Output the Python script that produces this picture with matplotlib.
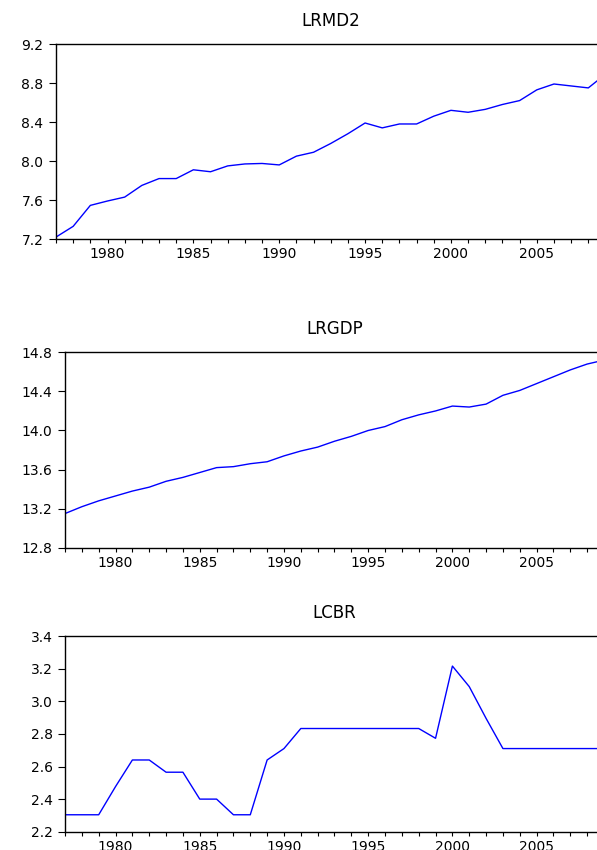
import matplotlib
matplotlib.use("Agg")
import matplotlib.pyplot as plt
from matplotlib.ticker import MultipleLocator, FormatStrFormatter

# annual data, 1977-2009
years = list(range(1977, 2010))

lrmd2 = [7.22, 7.33, 7.545, 7.59, 7.63, 7.75, 7.82, 7.82, 7.91, 7.89,
         7.95, 7.97, 7.975, 7.96, 8.05, 8.09, 8.18, 8.28, 8.39, 8.34,
         8.38, 8.38, 8.46, 8.52, 8.50, 8.53, 8.58, 8.62, 8.73, 8.79,
         8.77, 8.75, 8.89]

lrgdp = [13.15, 13.22, 13.28, 13.33, 13.38, 13.42, 13.48, 13.52, 13.57, 13.62,
         13.63, 13.66, 13.68, 13.74, 13.79, 13.83, 13.89, 13.94, 14.00, 14.04,
         14.11, 14.16, 14.20, 14.25, 14.24, 14.27, 14.36, 14.41, 14.48, 14.55,
         14.62, 14.68, 14.72]

lcbr = [2.304, 2.304, 2.304, 2.477, 2.64, 2.64, 2.565, 2.565, 2.40, 2.40,
        2.304, 2.304, 2.64, 2.71, 2.833, 2.833, 2.833, 2.833, 2.833, 2.833,
        2.833, 2.833, 2.773, 3.216, 3.09, 2.895, 2.71, 2.71, 2.71, 2.71,
        2.71, 2.71, 2.71]

titles = ["LRMD2", "LRGDP", "LCBR"]
series = [lrmd2, lrgdp, lcbr]
ylims = [(7.2, 9.2), (12.8, 14.8), (2.2, 3.4)]
ysteps = [0.4, 0.4, 0.2]

# axes boxes in figure fractions (the right side runs off the picture)
boxes = [
    [0.0938, 0.7188, 0.9204, 0.2294],
    [0.1089, 0.3556, 0.9028, 0.2299],
    [0.1089, 0.0215, 0.9028, 0.2302],
]

plt.rcParams['font.family'] = ['DejaVu Sans']

fig = plt.figure(figsize=(5.97, 8.5), dpi=100)

for box, title, vals, yl, step in zip(boxes, titles, series, ylims, ysteps):
    ax = fig.add_axes(box)
    ax.plot(years, vals, color="#0000ff", linewidth=1.0)
    ax.set_xlim(1977, 2009)
    ax.set_ylim(*yl)
    ax.xaxis.set_major_locator(MultipleLocator(5))
    ax.xaxis.set_minor_locator(MultipleLocator(1))
    ax.yaxis.set_major_locator(MultipleLocator(step))
    ax.yaxis.set_major_formatter(FormatStrFormatter("%.1f"))
    ax.tick_params(axis="x", which="both", direction="out", length=3,
                   width=0.8, labelsize=10, pad=3)
    ax.tick_params(axis="y", which="major", direction="out", length=5,
                   width=0.8, labelsize=10, pad=4)
    for s in ax.spines.values():
        s.set_linewidth(1.0)
    ax.set_title(title, fontsize=12, pad=13)

fig.savefig("out.png", dpi=100)
